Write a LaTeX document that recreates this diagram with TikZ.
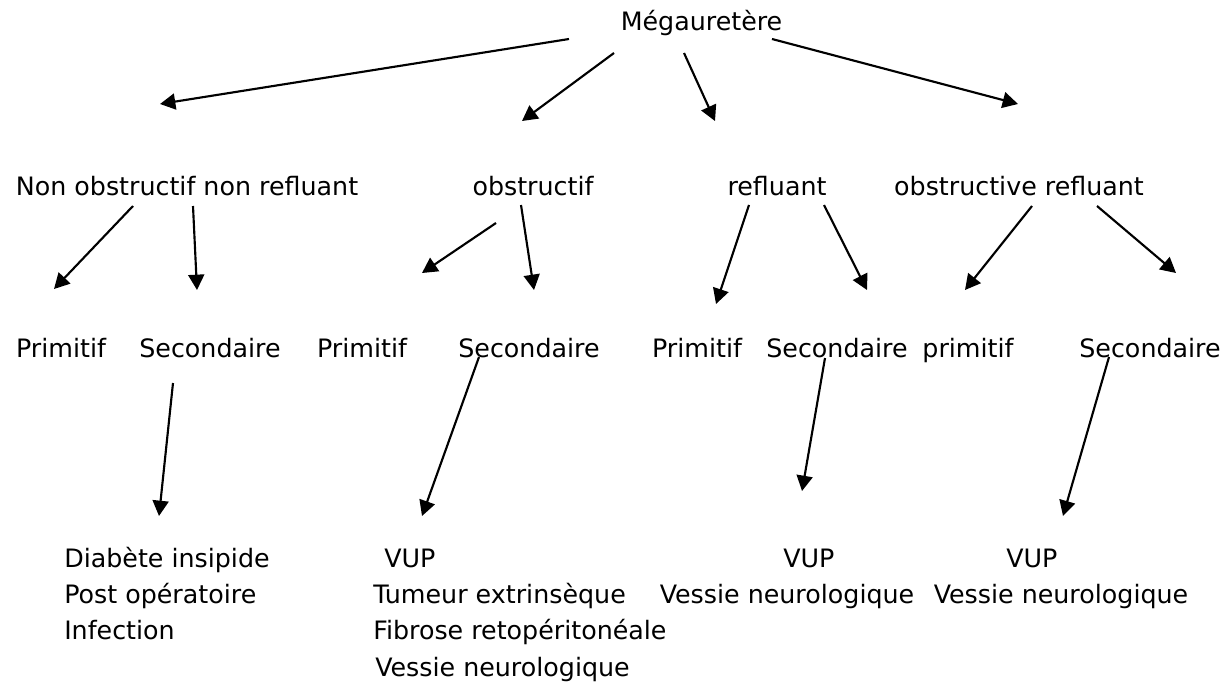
\documentclass[tikz,border=0pt]{standalone}
\usepackage{fontspec}
\setmainfont{DejaVu Sans}
\usepackage{xcolor}
\usetikzlibrary{arrows.meta}

\begin{document}
\begin{tikzpicture}[x=0.75pt,y=0.75pt,yscale=-1,xscale=1,
  txt/.style={inner sep=0.75pt,font=\fontsize{19}{22}\selectfont},
  fleche/.style={line width=1.6pt,-{Triangle[length=11.5pt,width=12pt]}}]
\path[use as bounding box] (0,0) rectangle (1230,692); %diagram 1230 x 692

% Text Node
\draw (701.5,31) node [anchor=base][txt] (mega) {Mégauretère};
% Text Node
\draw (187,195) node [anchor=base][txt] (nonobs) {Non obstructif non refluant};
% Text Node
\draw (533,195) node [anchor=base][txt] (obs) {obstructif};
% Text Node
\draw (777,195) node [anchor=base][txt] (refl) {refluant};
% Text Node
\draw (1019,195) node [anchor=base][txt] (obsrefl) {obstructive refluant};

% Text Node
\draw (61,357) node [anchor=base][txt] (primA) {Primitif};
% Text Node
\draw (210,357) node [anchor=base][txt] (secA) {Secondaire};
% Text Node
\draw (362,357) node [anchor=base][txt] (primB) {Primitif};
% Text Node
\draw (529,357) node [anchor=base][txt] (secB) {Secondaire};
% Text Node
\draw (697,357) node [anchor=base][txt] (primC) {Primitif};
% Text Node
\draw (837,357) node [anchor=base][txt] (secC) {Secondaire};
% Text Node
\draw (968,357) node [anchor=base][txt] (primD) {primitif};
% Text Node
\draw (1150,357) node [anchor=base][txt] (secD) {Secondaire};

% Text Node
\draw (63,567) node [anchor=base west][txt] (diab) {Diabète insipide};
% Text Node
\draw (63,603) node [anchor=base west][txt] (postop) {Post opératoire};
% Text Node
\draw (63,639) node [anchor=base west][txt] (infect) {Infection};
% Text Node
\draw (383,567) node [anchor=base west][txt] (vupB) {VUP};
% Text Node
\draw (372,603) node [anchor=base west][txt] (tumeur) {Tumeur extrinsèque};
% Text Node
\draw (372,639) node [anchor=base west][txt] (fibrose) {Fibrose retopéritonéale};
% Text Node
\draw (374,676) node [anchor=base west][txt] (vessieB) {Vessie neurologique};
% Text Node
\draw (782,567) node [anchor=base west][txt] (vupC) {VUP};
% Text Node
\draw (787,603) node [anchor=base][txt] (vessieC) {Vessie neurologique};
% Text Node
\draw (1005,567) node [anchor=base west][txt] (vupD) {VUP};
% Text Node
\draw (1061,603) node [anchor=base][txt] (vessieD) {Vessie neurologique};

%Arrow ends
\coordinate (m1) at (569,39);   \coordinate (t1) at (160,104);
\coordinate (m2) at (614,53);   \coordinate (t2) at (522,121);
\coordinate (m3) at (684,53);   \coordinate (t3) at (715,121);
\coordinate (m4) at (772,39);   \coordinate (t4) at (1018,104);
\coordinate (n1) at (133,206);  \coordinate (u1) at (54,289);
\coordinate (n2) at (193,206);  \coordinate (u2) at (197,290);
\coordinate (n3) at (496,223);  \coordinate (u3) at (422,273);
\coordinate (n4) at (521,205);  \coordinate (u4) at (534,290);
\coordinate (n5) at (749,205);  \coordinate (u5) at (716,304);
\coordinate (n6) at (824,205);  \coordinate (u6) at (867,290);
\coordinate (n7) at (1032,206); \coordinate (u7) at (965,290);
\coordinate (n8) at (1097,206); \coordinate (u8) at (1176,273);
\coordinate (s1) at (173,383);  \coordinate (v1) at (159,516);
\coordinate (s2) at (479,357);  \coordinate (v2) at (422,516);
\coordinate (s3) at (825,358);  \coordinate (v3) at (802,491);
\coordinate (s4) at (1109,357); \coordinate (v4) at (1063,516);

%Straight Lines
\foreach \a/\b in {m1/t1,m2/t2,m3/t3,m4/t4,n1/u1,n2/u2,n3/u3,n4/u4,n5/u5,n6/u6,n7/u7,n8/u8,s1/v1,s2/v2,s3/v3,s4/v4}
  \draw [fleche] (\a) -- (\b) ;

\end{tikzpicture}
\end{document}
